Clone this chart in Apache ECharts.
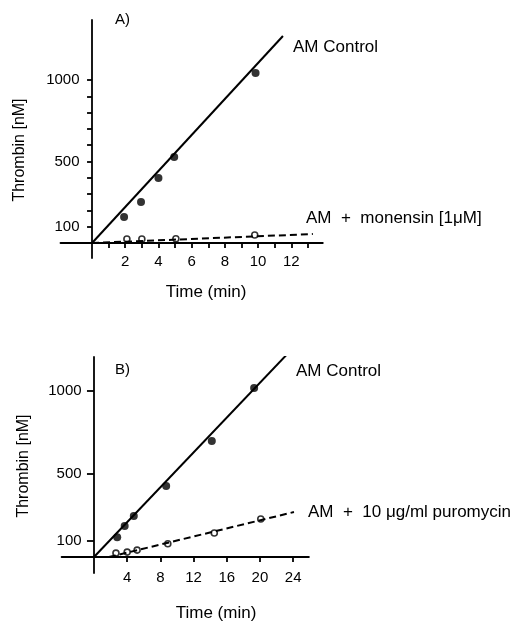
<!DOCTYPE html>
<html>
<head>
<meta charset="utf-8">
<script src="https://cdn.jsdelivr.net/npm/echarts@6/dist/echarts.min.js"></script>
<style>
html,body{margin:0;padding:0;background:#fff;}
#chart{width:528px;height:621px;}
</style>
</head>
<body>
<div id="chart"></div>
<script>
// ---- Panel A data (monensin) ----
var controlA_t = [1.93, 2.95, 4.0, 4.95, 9.85];
var controlA_y = [160, 252, 399, 528, 1043];
var monensin_t = [2.1, 3.0, 5.05, 9.8];
var monensin_y = [25, 25, 26, 49];
var controlA_fit = [[0, 0], [11.5, 1270]];
var monensin_fit = [[0, 0], [13.3, 55]];

// ---- Panel B data (puromycin) ----
var controlB_t = [2.8, 3.7, 4.8, 8.7, 14.2, 19.3];
var controlB_y = [120, 187, 247, 428, 699, 1018];
var puromycin_t = [2.65, 4.0, 5.2, 8.9, 14.5, 20.1];
var puromycin_y = [24, 30, 42, 80, 145, 229];
var controlB_fit = [[0, 0], [24.1, 1265]];
var puromycin_fit = [[1.8, 0], [24.1, 271]];

// ---- ticks / labels ----
var xTicksA = [1,2,3,4,5,6,7,8,9,10,11,12,13];
var xLabelsA = [2,4,6,8,10,12];
var yTicksA = [100,200,300,400,500,600,700,800,900,1000];
var yLabelsA = [100,500,1000];
var xTicksB = [4,8,12,16,20,24];
var xLabelsB = [4,8,12,16,20,24];
var yTicksB = [100,500,1000];
var yLabelsB = [100,500,1000];

function zip(a, b){ return a.map(function(v,i){ return [v, b[i]]; }); }

var FONT = '"Liberation Sans", Arial, Helvetica, sans-serif';
var BLACK = '#000';

function axisCfg(idx, min, max, ticks, labels, tickLen, margin){
  return {
    type:'value', gridIndex: idx, min:min, max:max,
    axisLine:{show:true, onZero:true, lineStyle:{color:BLACK, width:1.8}},
    axisTick:{show:true, customValues:ticks, length:tickLen, lineStyle:{color:BLACK, width:1.8}},
    axisLabel:{show:true, customValues:labels, margin:margin, color:BLACK, fontSize:15, fontFamily:FONT,
               formatter:function(v){ return String(v); }},
    splitLine:{show:false}
  };
}

var chart = echarts.init(document.getElementById('chart'), null, {renderer:'canvas'});
var option = {
  backgroundColor:'#fff',
  animation:false,
  grid:[
    {left:60.5, top:20, width:262.3, height:238},
    {left:61.6, top:357, width:247.3, height:216}
  ],
  xAxis:[
    axisCfg(0, -1.9, 13.9, xTicksA, xLabelsA, 5, -4),
    axisCfg(1, -3.9, 25.9, xTicksB, xLabelsB, 5, -3)
  ],
  yAxis:[
    axisCfg(0, -92, 1368, yTicksA, yLabelsA, 5, -19),
    axisCfg(1, -96, 1205, yTicksB, yLabelsB, 7, -20)
  ],
  series:[
    {type:'line', xAxisIndex:0, yAxisIndex:0, data:controlA_fit, symbol:'none',
     lineStyle:{color:BLACK, width:2}},
    {type:'line', xAxisIndex:0, yAxisIndex:0, data:monensin_fit, symbol:'none',
     lineStyle:{color:BLACK, width:2, type:[7,4]}},
    {type:'scatter', xAxisIndex:0, yAxisIndex:0, data:zip(controlA_t, controlA_y), symbol:'circle', symbolSize:8,
     itemStyle:{color:BLACK}},
    {type:'scatter', xAxisIndex:0, yAxisIndex:0, data:zip(monensin_t, monensin_y), symbol:'circle', symbolSize:6,
     itemStyle:{color:'#fff', borderColor:BLACK, borderWidth:1.6}},

    {type:'line', xAxisIndex:1, yAxisIndex:1, data:controlB_fit, symbol:'none',
     lineStyle:{color:BLACK, width:2}},
    {type:'line', xAxisIndex:1, yAxisIndex:1, data:puromycin_fit, symbol:'none',
     lineStyle:{color:BLACK, width:2, type:[7,4]}},
    {type:'scatter', xAxisIndex:1, yAxisIndex:1, data:zip(controlB_t, controlB_y), symbol:'circle', symbolSize:8,
     itemStyle:{color:BLACK}},
    {type:'scatter', xAxisIndex:1, yAxisIndex:1, data:zip(puromycin_t, puromycin_y), symbol:'circle', symbolSize:6,
     itemStyle:{color:'#fff', borderColor:BLACK, borderWidth:1.6}}
  ],
  graphic:[
    {type:'text', x:115, y:20, style:{text:'A)', font:'15px '+FONT, fill:BLACK, align:'left', verticalAlign:'middle'}},
    {type:'text', x:293, y:47, style:{text:'AM Control', font:'17px '+FONT, fill:BLACK, align:'left', verticalAlign:'middle'}},
    {type:'text', x:306, y:218, style:{text:'AM  +  monensin [1\u03BCM]', font:'17px '+FONT, fill:BLACK, align:'left', verticalAlign:'middle'}},
    {type:'text', x:20, y:150, rotation:Math.PI/2, style:{text:'Thrombin [nM]', font:'16px '+FONT, fill:BLACK, align:'center', verticalAlign:'middle'}},
    {type:'text', x:206, y:292, style:{text:'Time (min)', font:'17px '+FONT, fill:BLACK, align:'center', verticalAlign:'middle'}},

    {type:'text', x:115, y:370, style:{text:'B)', font:'15px '+FONT, fill:BLACK, align:'left', verticalAlign:'middle'}},
    {type:'text', x:296, y:371, style:{text:'AM Control', font:'17px '+FONT, fill:BLACK, align:'left', verticalAlign:'middle'}},
    {type:'text', x:308, y:512, style:{text:'AM  +  10 \u03BCg/ml puromycin', font:'17px '+FONT, fill:BLACK, align:'left', verticalAlign:'middle'}},
    {type:'text', x:24, y:466, rotation:Math.PI/2, style:{text:'Thrombin [nM]', font:'16px '+FONT, fill:BLACK, align:'center', verticalAlign:'middle'}},
    {type:'text', x:216, y:613, style:{text:'Time (min)', font:'17px '+FONT, fill:BLACK, align:'center', verticalAlign:'middle'}}
  ]
};
chart.setOption(option);
</script>
</body>
</html>
